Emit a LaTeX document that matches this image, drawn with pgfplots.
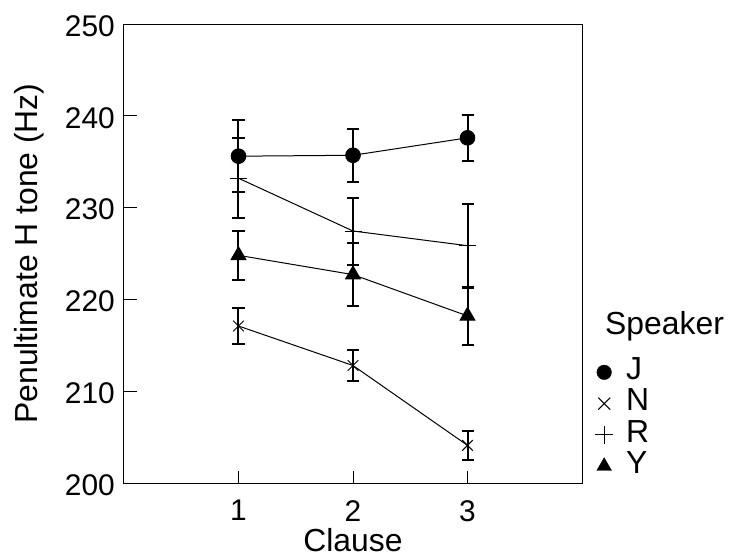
\documentclass[border=0pt]{standalone}
\usepackage{fontspec}
\setmainfont{Liberation Sans}
\usepackage{pgfplots}
\pgfplotsset{compat=1.18}
\begin{document}
\begin{tikzpicture}
\pgfplotsset{
  errstyle/.style={error bars/.cd, y dir=both, y explicit,
    error bar style={line width=2bp, black},
    error mark options={rotate=90, mark size=6bp, line width=2bp, black}},
}
\begin{axis}[
  at={(0,0)}, anchor=south west,
  scale only axis, width=458bp, height=459bp,
  xmin=0, xmax=4, ymin=200, ymax=250,
  xtick={1,2,3}, ytick={200,210,...,250},
  tick pos=left, tick align=inside,
  major tick length=12.5bp,
  axis line style={line width=1bp},
  every tick/.style={black, line width=1bp},
  /pgf/number format/assume math mode=true,
  tick label style={font=\fontsize{30}{30}\selectfont},
  xticklabel style={inner sep=0pt, anchor=north, yshift=-17bp},
  yticklabel style={inner sep=0pt, anchor=east, xshift=-9bp, yshift=-2bp},
  label style={font=\fontsize{32}{32}\selectfont},
  xlabel={Clause}, ylabel={Penultimate H tone (Hz)},
  xlabel style={at={(axis description cs:0.5,-0.15)}, anchor=base, inner sep=0pt},
  ylabel style={at={(axis description cs:-0.1878,0.5)}, anchor=base, inner sep=0pt},
  legend style={at={(axis description cs:1.0218,0.28)}, anchor=north west, draw=none, fill=none,
    font=\fontsize{32}{32}\selectfont,
    nodes={inner sep=0pt, text height=23bp, text depth=8.3bp},
    row sep=0pt,
    /tikz/every odd column/.append style={column sep=13bp}},
  legend cell align=left,
]
% J
\addplot[forget plot, black, line width=1bp, mark=*, mark size=7.3bp, mark options={solid, fill=black}, errstyle]
  coordinates {(1,235.6) +- (0,3.9) (2,235.7) +- (0,2.87) (3,237.6) +- (0,2.5)};
% N
\addplot[forget plot, black, line width=1bp, mark=x, mark size=7.5bp, mark options={solid, line width=1bp}, errstyle]
  coordinates {(1,217.1) +- (0,1.91) (2,212.8) +- (0,1.74) (3,204.1) +- (0,1.58)};
% R
\addplot[forget plot, black, line width=1bp, mark=+, mark size=8.5bp, mark options={solid, line width=1bp}, errstyle]
  coordinates {(1,233.2) +- (0,4.36) (2,227.45) +- (0,3.65) (3,225.85) +- (0,4.56)};
% Y
\addplot[forget plot, black, line width=1bp, mark=triangle*, mark size=8.5bp, mark options={solid, fill=black}, errstyle]
  coordinates {(1,224.8) +- (0,2.7) (2,222.7) +- (0,3.4) (3,218.2) +- (0,3.12)};
\addlegendimage{only marks, mark=*, mark size=7.3bp, mark options={fill=black}}
\addlegendentry{J}
\addlegendimage{only marks, mark=x, mark size=8.5bp, mark options={line width=1bp}}
\addlegendentry{N}
\addlegendimage{only marks, mark=+, mark size=9bp, mark options={line width=1bp}}
\addlegendentry{R}
\addlegendimage{only marks, mark=triangle*, mark size=8.5bp, mark options={fill=black}}
\addlegendentry{Y}
\end{axis}
\node[anchor=base west, inner sep=0pt, font=\fontsize{32}{32}\selectfont] at (481bp,148bp) {Speaker};
\pgfresetboundingbox
\path[use as bounding box] (-124bp,-75bp) rectangle (607bp,483bp);
\end{tikzpicture}
\end{document}
